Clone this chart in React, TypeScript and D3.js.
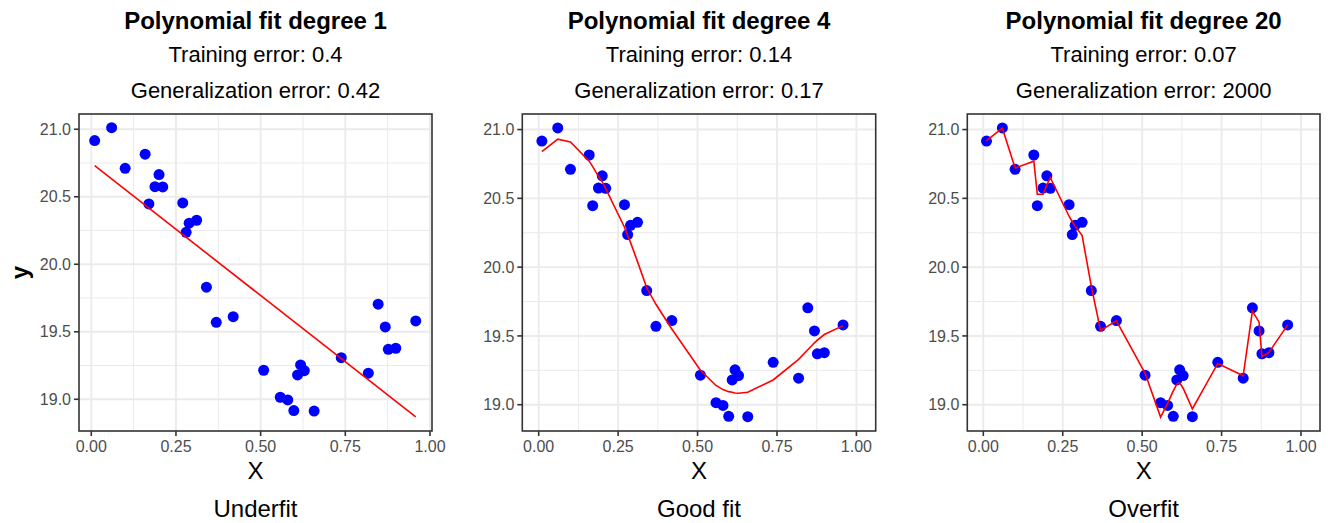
import * as d3 from 'd3';

// training data
const xValues = [0.010, 0.060, 0.100, 0.159, 0.170, 0.188, 0.200, 0.211, 0.270, 0.280, 0.289, 0.311, 0.340, 0.369, 0.419,
  0.509, 0.558, 0.580, 0.598, 0.609, 0.618, 0.629, 0.658, 0.738, 0.818, 0.847, 0.868, 0.877, 0.899, 0.958];
const yValues = [20.916, 21.012, 20.711, 20.815, 20.447, 20.575, 20.664, 20.573, 20.454, 20.237, 20.304, 20.326, 19.830, 19.570, 19.612,
  19.215, 19.015, 18.995, 18.916, 19.180, 19.254, 19.212, 18.913, 19.308, 19.193, 19.704, 19.536, 19.370, 19.378, 19.580];

// fitted curves
const fit1X = [0.010, 0.958];
const fit1Y = [20.73, 18.87];
const fit4Y = [20.84, 20.93, 20.91, 20.77, 20.73, 20.66, 20.62, 20.57, 20.29, 20.23, 20.18, 20.04, 19.85, 19.73, 19.55,
  19.25, 19.14, 19.11, 19.095, 19.09, 19.085, 19.083, 19.09, 19.18, 19.33, 19.40, 19.45, 19.47, 19.51, 19.575];
const fit20Y = [20.92, 21.01, 20.72, 20.77, 20.53, 20.53, 20.60, 20.65, 20.37, 20.33, 20.30, 20.23, 19.86, 19.54, 19.61,
  19.23, 18.91, 19.01, 19.10, 19.15, 19.16, 19.12, 18.97, 19.30, 19.21, 19.68, 19.60, 19.35, 19.38, 19.58];

const titles = ['Polynomial fit degree 1', 'Polynomial fit degree 4', 'Polynomial fit degree 20'];
const trainingErrors = ['0.4', '0.14', '0.07'];
const generalizationErrors = ['0.42', '0.17', '2000'];
const captions = ['Underfit', 'Good fit', 'Overfit'];

const xTicks = [0, 0.25, 0.5, 0.75, 1];
const xTickLabels = ['0.00', '0.25', '0.50', '0.75', '1.00'];
const yTicks = [19, 19.5, 20, 20.5, 21];
const yTickLabels = ['19.0', '19.5', '20.0', '20.5', '21.0'];

const FONT = '"Liberation Sans", Arial, Helvetica, sans-serif';

const panels = [
  { left: 79, right: 432, xDomain: [-0.0363, 1.006], yDomain: [18.765, 21.113], fitX: fit1X, fitY: fit1Y, yLabel: true },
  { left: 522.3, right: 875.7, xDomain: [-0.0516, 1.0607], yDomain: [18.809, 21.113], fitX: xValues, fitY: fit4Y, yLabel: false },
  { left: 967.3, right: 1320, xDomain: [-0.0504, 1.0598], yDomain: [18.809, 21.113], fitX: xValues, fitY: fit20Y, yLabel: false },
];

const TOP = 114;
const BOTTOM = 431;

function Panel({ p, i }: any) {
  const x = d3.scaleLinear().domain(p.xDomain).range([p.left, p.right]);
  const y = d3.scaleLinear().domain(p.yDomain).range([BOTTOM, TOP]);
  const cx = (p.left + p.right) / 2;

  const line = d3.line<number>()
    .x((d, k) => x(p.fitX[k]))
    .y((d) => y(d));

  // minor grid between major ticks
  const xMinor = xTicks.slice(0, -1).map((t, k) => (t + xTicks[k + 1]) / 2);
  const yMinor = [18.75, ...yTicks.slice(0, -1).map((t, k) => (t + yTicks[k + 1]) / 2)]
    .filter((v) => v > p.yDomain[0] && v < p.yDomain[1]);

  return (
    <g>
      <text x={cx} y={29} textAnchor="middle" fontSize={24} fontWeight="bold" fontFamily={FONT}>{titles[i]}</text>
      <text x={cx} y={62} textAnchor="middle" fontSize={22} fontFamily={FONT}>{`Training error: ${trainingErrors[i]}`}</text>
      <text x={cx} y={98} textAnchor="middle" fontSize={22} fontFamily={FONT}>{`Generalization error: ${generalizationErrors[i]}`}</text>

      <rect x={p.left} y={TOP} width={p.right - p.left} height={BOTTOM - TOP} fill="#fff" />
      {xMinor.map((v) => (
        <line key={'xm' + v} x1={x(v)} x2={x(v)} y1={TOP} y2={BOTTOM} stroke="#EBEBEB" strokeWidth={1} />
      ))}
      {yMinor.map((v) => (
        <line key={'ym' + v} x1={p.left} x2={p.right} y1={y(v)} y2={y(v)} stroke="#EBEBEB" strokeWidth={1} />
      ))}
      {xTicks.map((v) => (
        <line key={'xg' + v} x1={x(v)} x2={x(v)} y1={TOP} y2={BOTTOM} stroke="#EBEBEB" strokeWidth={1.9} />
      ))}
      {yTicks.map((v) => (
        <line key={'yg' + v} x1={p.left} x2={p.right} y1={y(v)} y2={y(v)} stroke="#EBEBEB" strokeWidth={1.9} />
      ))}

      {xValues.map((v, k) => (
        <circle key={'pt' + k} cx={x(v)} cy={y(yValues[k])} r={5.5} fill="#0000FF" />
      ))}
      <path d={line(p.fitY) || ''} fill="none" stroke="#FF0000" strokeWidth={1.6} />

      <rect x={p.left} y={TOP} width={p.right - p.left} height={BOTTOM - TOP} fill="none" stroke="#333333" strokeWidth={1.6} />

      {xTicks.map((v, k) => (
        <g key={'xt' + v}>
          <line x1={x(v)} x2={x(v)} y1={BOTTOM} y2={BOTTOM + 5} stroke="#333333" strokeWidth={1.6} />
          <text x={x(v)} y={452} textAnchor="middle" fontSize={16} fill="#4D4D4D" fontFamily={FONT}>{xTickLabels[k]}</text>
        </g>
      ))}
      {yTicks.map((v, k) => (
        <g key={'yt' + v}>
          <line x1={p.left - 5} x2={p.left} y1={y(v)} y2={y(v)} stroke="#333333" strokeWidth={1.6} />
          <text x={p.left - 8} y={y(v)} dy="0.35em" textAnchor="end" fontSize={16} fill="#4D4D4D" fontFamily={FONT}>{yTickLabels[k]}</text>
        </g>
      ))}

      <text x={cx} y={479} textAnchor="middle" fontSize={24} fontFamily={FONT}>X</text>
      <text x={cx} y={517} textAnchor="middle" fontSize={24} fontFamily={FONT}>{captions[i]}</text>
      {p.yLabel && (
        <text transform={`translate(28, ${(TOP + BOTTOM) / 2}) rotate(-90)`} textAnchor="middle" fontSize={24} fontWeight="bold" fontFamily={FONT}>y</text>
      )}
    </g>
  );
}

export default function App() {
  return (
    <svg width={1328} height={523} style={{ position: 'absolute', left: 0, top: 0, background: '#fff' }}>
      <rect width={1328} height={523} fill="#fff" />
      {panels.map((p, i) => <Panel key={i} p={p} i={i} />)}
    </svg>
  );
}
